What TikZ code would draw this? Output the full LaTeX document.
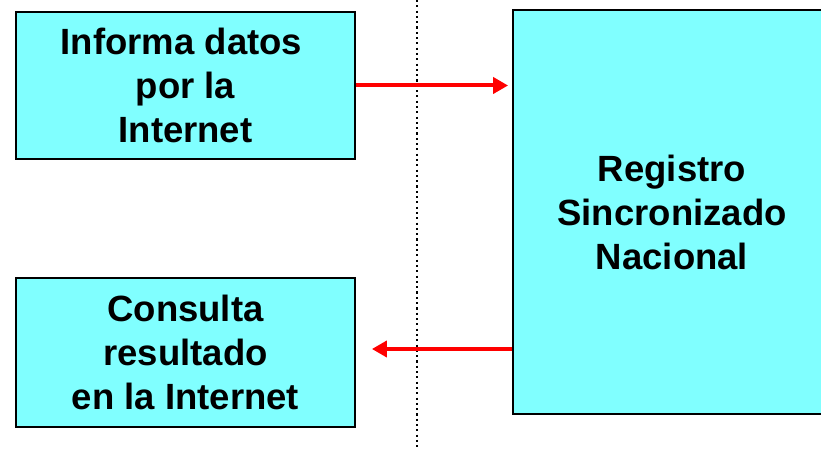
\documentclass[tikz,border=0pt]{standalone}
\usepackage{fontspec}
\setmainfont{Liberation Sans}
\usetikzlibrary{arrows.meta}
\definecolor{boxcyan}{RGB}{128,255,255}
\definecolor{arrred}{RGB}{255,0,0}
\tikzset{
  cbox/.style={draw=black, line width=1.8pt, fill=boxcyan, inner sep=0pt,
    align=center, font=\bfseries\fontsize{36.5}{44}\selectfont},
  redarrow/.style={draw=arrred, line width=4pt, -{Triangle[length=15pt,width=16pt]}},
  divider/.style={draw=black, line width=2.1pt, dash pattern=on 2.1pt off 3.2pt}
}
\begin{document}
\begin{tikzpicture}[x=1pt,y=1pt]
\useasboundingbox (0,0) rectangle (821,450);
\node[cbox, minimum width=339pt, minimum height=147pt] (top) at (185.5,364.5)
  {Informa datos\hspace*{8pt}\\ por la\\Internet};
\node[cbox, minimum width=339pt, minimum height=149pt] (bot) at (185.5,97.5)
  {Consulta\\resultado\\en la Internet};
\node[cbox, minimum width=318pt, minimum height=404pt] (reg) at (672,238)
  {Registro\\Sincronizado\\Nacional};
\coordinate (dtop) at (417,450);
\coordinate (dbot) at (417,0);
\draw[divider] (dtop) -- (dbot);
\draw[redarrow, shorten >=4pt] (top.east) -- (top.east -| reg.west);
\draw[redarrow, shorten >=16pt] ([yshift=3.5pt]reg.west |- bot.east) -- ([yshift=3.5pt]bot.east);
\end{tikzpicture}
\end{document}
